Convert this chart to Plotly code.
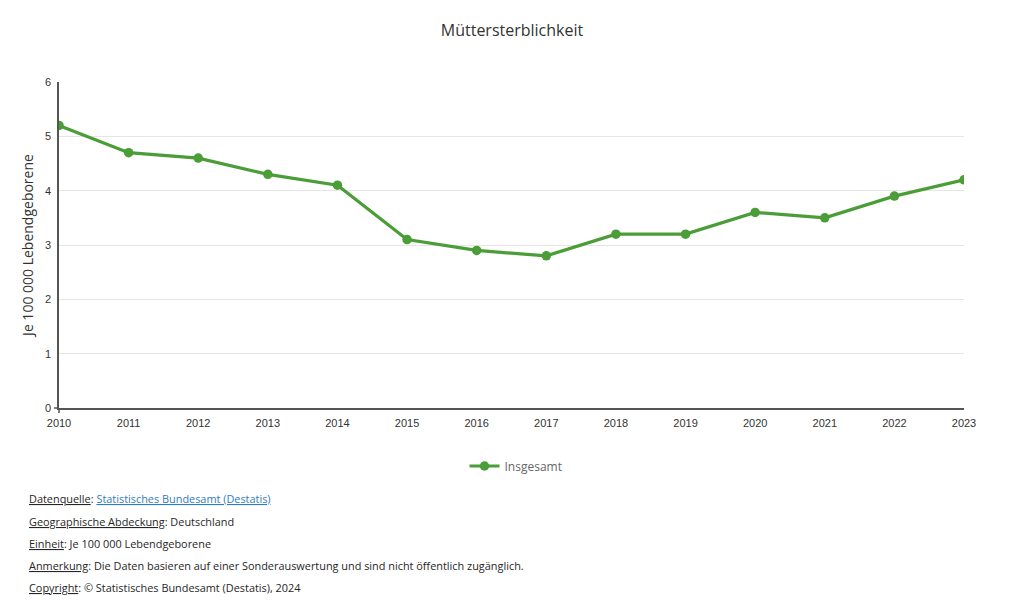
import plotly.graph_objects as go

years = list(range(2010, 2024))
values = [5.2, 4.7, 4.6, 4.3, 4.1, 3.1, 2.9, 2.8, 3.2, 3.2, 3.6, 3.5, 3.9, 4.2]
series_name = "Insgesamt"
title = "Müttersterblichkeit"
y_title = "Je 100 000 Lebendgeborene"
footer = [
    ("Datenquelle", "<span style='color:#2f7cc1'><u>Statistisches Bundesamt (Destatis)</u></span>"),
    ("Geographische Abdeckung", "Deutschland"),
    ("Einheit", "Je 100 000 Lebendgeborene"),
    ("Anmerkung", "Die Daten basieren auf einer Sonderauswertung und sind nicht öffentlich zugänglich."),
    ("Copyright", "© Statistisches Bundesamt (Destatis), 2024"),
]

OFF = 8  # page body margin
W, H = 1024, 611
L, T = 59 - OFF, 82 - OFF
R = W - (964 - OFF)
B = H - (408 - OFF)
ph = H - T - B
pw = W - L - R

fig = go.Figure()
fig.add_trace(go.Scatter(
    x=years, y=values, mode="lines+markers", name=series_name,
    line=dict(color="#4a9d37", width=3.2),
    marker=dict(color="#4a9d37", size=9.5),
))

def py(pix):
    return (H - B - (pix - OFF)) / ph

def px(pix):
    return ((pix - OFF) - L) / pw

annotations = []
ys = [498, 521, 543, 565, 587]
for (k, v), yp in zip(footer, ys):
    annotations.append(dict(
        text=f"<u>{k}</u>:\u00a0{v}", x=px(26.5), y=py(yp), xref="paper", yref="paper",
        xanchor="left", yanchor="middle", showarrow=False, align="left",
        font=dict(family="Open Sans", size=10.9, color="#262626"),
    ))

axis_col = "#555555"
shapes = [
    dict(type="line", xref="paper", yref="paper", x0=px(54), x1=px(59), y0=0, y1=0,
         line=dict(color=axis_col, width=1.5)),
    dict(type="line", xref="paper", yref="paper", x0=0, x1=0, y0=py(413), y1=py(408),
         line=dict(color=axis_col, width=1.5)),
]

fig.update_layout(
    width=W, height=H,
    margin=dict(l=L, r=R, t=T, b=B),
    paper_bgcolor="white", plot_bgcolor="white",
    title=dict(text=title, x=px(512), xref="paper", xanchor="center",
               y=1 - (30 - OFF) / H, yanchor="middle",
               font=dict(family="Open Sans", size=16, color="#333333")),
    xaxis=dict(range=[2010, 2023], tickvals=years, ticktext=[str(y) for y in years],
               showgrid=False, showline=True, linecolor=axis_col, linewidth=1.5,
               ticks="outside", ticklen=4, tickcolor="rgba(0,0,0,0)",
               tickfont=dict(family="Liberation Sans, Arial", size=11, color="#333333"),
               zeroline=False, fixedrange=True),
    yaxis=dict(range=[0, 6], dtick=1, showgrid=True, gridcolor="#e5e5e5",
               showline=True, linecolor=axis_col, linewidth=1.5,
               ticks="outside", ticklen=4, tickcolor="rgba(0,0,0,0)",
               tickfont=dict(family="Liberation Sans, Arial", size=11, color="#333333"),
               title=dict(text=y_title, standoff=8,
                          font=dict(family="Open Sans", size=14, color="#333333")),
               zeroline=False),
    showlegend=True,
    legend=dict(orientation="h", x=px(516), xanchor="center", y=py(466), yanchor="middle",
                font=dict(family="Open Sans", size=12, color="#666666"),
                bgcolor="rgba(0,0,0,0)"),
    annotations=annotations,
    shapes=shapes,
)

fig.write_html("out.html")
